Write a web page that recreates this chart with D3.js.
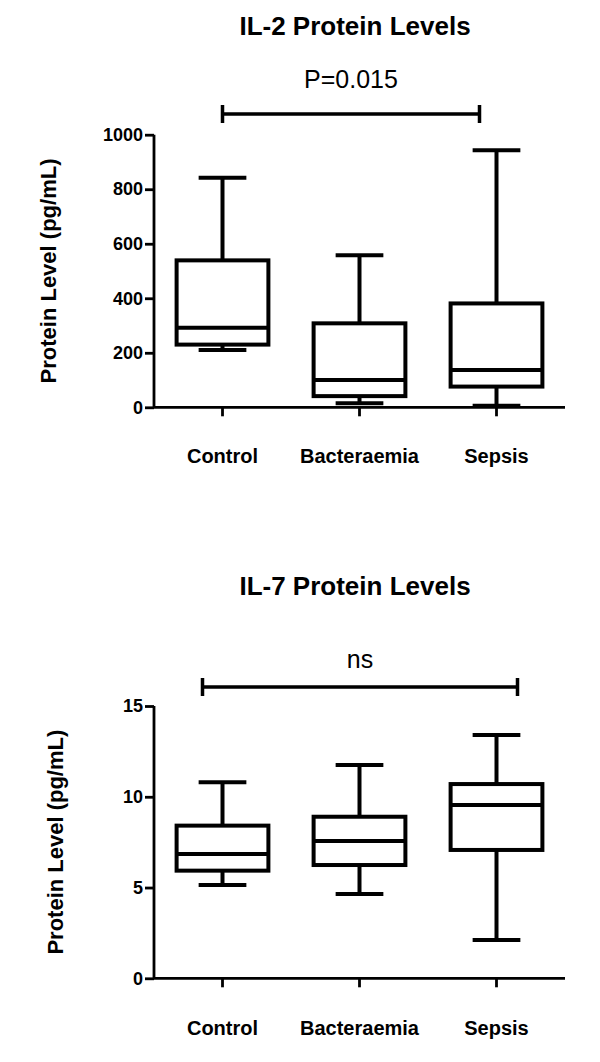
<!DOCTYPE html>
<html>
<head>
<meta charset="utf-8">
<script src="https://cdnjs.cloudflare.com/ajax/libs/d3/7.8.5/d3.min.js"></script>
<style>
  body { margin: 0; background: #fff; }
  svg text { font-family: Arial, "Liberation Sans", sans-serif; fill: #000; }
</style>
</head>
<body>
<svg id="chart" width="600" height="1062"></svg>
<script>
//
// D A T A
//
var categories = ["Control", "Bacteraemia", "Sepsis"];

// IL-2 (pg/mL) box stats
var il2Min    = [210, 15, 6];
var il2Q1     = [230, 41, 76];
var il2Median = [292, 100, 137];
var il2Q3     = [539, 308, 381];
var il2Max    = [842, 558, 943];
var il2Ticks  = [0, 200, 400, 600, 800, 1000];

// IL-7 (pg/mL)
var il7Min    = [5.14, 4.64, 2.11];
var il7Q1     = [5.93, 6.24, 7.07];
var il7Median = [6.85, 7.56, 9.55];
var il7Q3     = [8.41, 8.9, 10.7];
var il7Max    = [10.8, 11.75, 13.4];
var il7Ticks  = [0, 5, 10, 15];

var titles      = ["IL-2 Protein Levels", "IL-7 Protein Levels"];
var statLabels  = ["P=0.015", "ns"];
var bracketEnds = [["Control", "Sepsis"], ["Control", "Sepsis"]];
var yTitle      = "Protein Level (pg/mL)";

//
// L A Y O U T
//
var panels = [
  { min: il2Min, q1: il2Q1, med: il2Median, q3: il2Q3, max: il2Max, ticks: il2Ticks,
    top: 134.7, bottom: 407.3, titleY: 35, statY: 88, bracketY: 114,
    bracketOff: [0, -17], catY: 463, yTitleX: 56 },
  { min: il7Min, q1: il7Q1, med: il7Median, q3: il7Q3, max: il7Max, ticks: il7Ticks,
    top: 706, bottom: 978.3, titleY: 595, statY: 668, bracketY: 687,
    bracketOff: [-20, 21], catY: 1035, yTitleX: 63 }
];

var svg = d3.select('#chart');

var x = d3.scaleBand()
  .domain(categories)
  .range([154, 565])
  .paddingInner(0.33)
  .paddingOuter(0.165);

var cx = function(c){ return x(c) + x.bandwidth() / 2; };
var capW = x.bandwidth() * 0.52;

panels.forEach(function(p, i){
  var g = svg.append('g');

  var y = d3.scaleLinear()
    .domain([0, d3.max(p.ticks)])
    .range([p.bottom, p.top]);

  // title
  g.append('text')
    .attr('x', 355)
    .attr('y', p.titleY)
    .attr('text-anchor', 'middle')
    .style('font-size', '26px')
    .style('font-weight', 'bold')
    .text(titles[i]);

  // y axis
  var yAxis = g.append('g')
    .attr('transform', 'translate(154,0)')
    .call(d3.axisLeft(y).tickValues(p.ticks).tickSize(9).tickPadding(2).tickFormat(d3.format('d')));
  yAxis.selectAll('line, path').attr('stroke', '#000').attr('stroke-width', 2.8);
  yAxis.select('.domain').attr('d', 'M0,' + y(0) + 'V' + y(d3.max(p.ticks)));
  yAxis.selectAll('text')
    .style('font-size', '18px')
    .style('font-weight', 'bold')
    .style('font-family', 'Arial, "Liberation Sans", sans-serif');

  // x axis
  var xAxis = g.append('g')
    .attr('transform', 'translate(0,' + y(0) + ')')
    .call(d3.axisBottom(x).tickSize(9).tickFormat(''));
  xAxis.selectAll('line, path').attr('stroke', '#000').attr('stroke-width', 2.8);
  xAxis.select('.domain').attr('d', 'M154,0H565');

  // category labels
  g.selectAll('.cat')
    .data(categories)
    .enter().append('text')
      .attr('class', 'cat')
      .attr('x', cx)
      .attr('y', p.catY)
      .attr('text-anchor', 'middle')
      .style('font-size', '20px')
      .style('font-weight', 'bold')
      .text(function(d){ return d; });

  // y title
  g.append('text')
    .attr('transform', 'translate(' + p.yTitleX + ',' + ((y(0) + y(d3.max(p.ticks))) / 2) + ') rotate(-90)')
    .attr('text-anchor', 'middle')
    .style('font-size', '22px')
    .style('font-weight', 'bold')
    .text(yTitle);

  // boxes
  var boxes = g.selectAll('.box')
    .data(categories)
    .enter().append('g')
      .attr('class', 'box')
      .attr('stroke', '#000')
      .attr('stroke-width', 4)
      .attr('fill', 'none');

  // whiskers
  boxes.append('line')
    .attr('x1', cx).attr('x2', cx)
    .attr('y1', function(d, j){ return y(p.max[j]); })
    .attr('y2', function(d, j){ return y(p.q3[j]); });
  boxes.append('line')
    .attr('x1', cx).attr('x2', cx)
    .attr('y1', function(d, j){ return y(p.q1[j]); })
    .attr('y2', function(d, j){ return y(p.min[j]); });

  // caps
  [p.max, p.min].forEach(function(arr){
    boxes.append('line')
      .attr('x1', function(d){ return cx(d) - capW / 2; })
      .attr('x2', function(d){ return cx(d) + capW / 2; })
      .attr('y1', function(d, j){ return y(arr[j]); })
      .attr('y2', function(d, j){ return y(arr[j]); });
  });

  boxes.append('rect')
    .attr('x', function(d){ return x(d); })
    .attr('width', x.bandwidth())
    .attr('y', function(d, j){ return y(p.q3[j]); })
    .attr('height', function(d, j){ return y(p.q1[j]) - y(p.q3[j]); })
    .attr('fill', '#fff');

  boxes.append('line')
    .attr('x1', function(d){ return x(d); })
    .attr('x2', function(d){ return x(d) + x.bandwidth(); })
    .attr('y1', function(d, j){ return y(p.med[j]); })
    .attr('y2', function(d, j){ return y(p.med[j]); });

  // significance bracket
  var bx1 = cx(bracketEnds[i][0]) + p.bracketOff[0],
      bx2 = cx(bracketEnds[i][1]) + p.bracketOff[1];
  g.append('path')
    .attr('d', 'M' + bx1 + ',' + p.bracketY + 'H' + bx2 +
               'M' + bx1 + ',' + (p.bracketY - 9) + 'V' + (p.bracketY + 9) +
               'M' + bx2 + ',' + (p.bracketY - 9) + 'V' + (p.bracketY + 9))
    .attr('stroke', '#000')
    .attr('stroke-width', 3.5)
    .attr('fill', 'none');

  g.append('text')
    .attr('x', (bx1 + bx2) / 2)
    .attr('y', p.statY)
    .attr('text-anchor', 'middle')
    .style('font-size', '25px')
    .text(statLabels[i]);
});
</script>
</body>
</html>
